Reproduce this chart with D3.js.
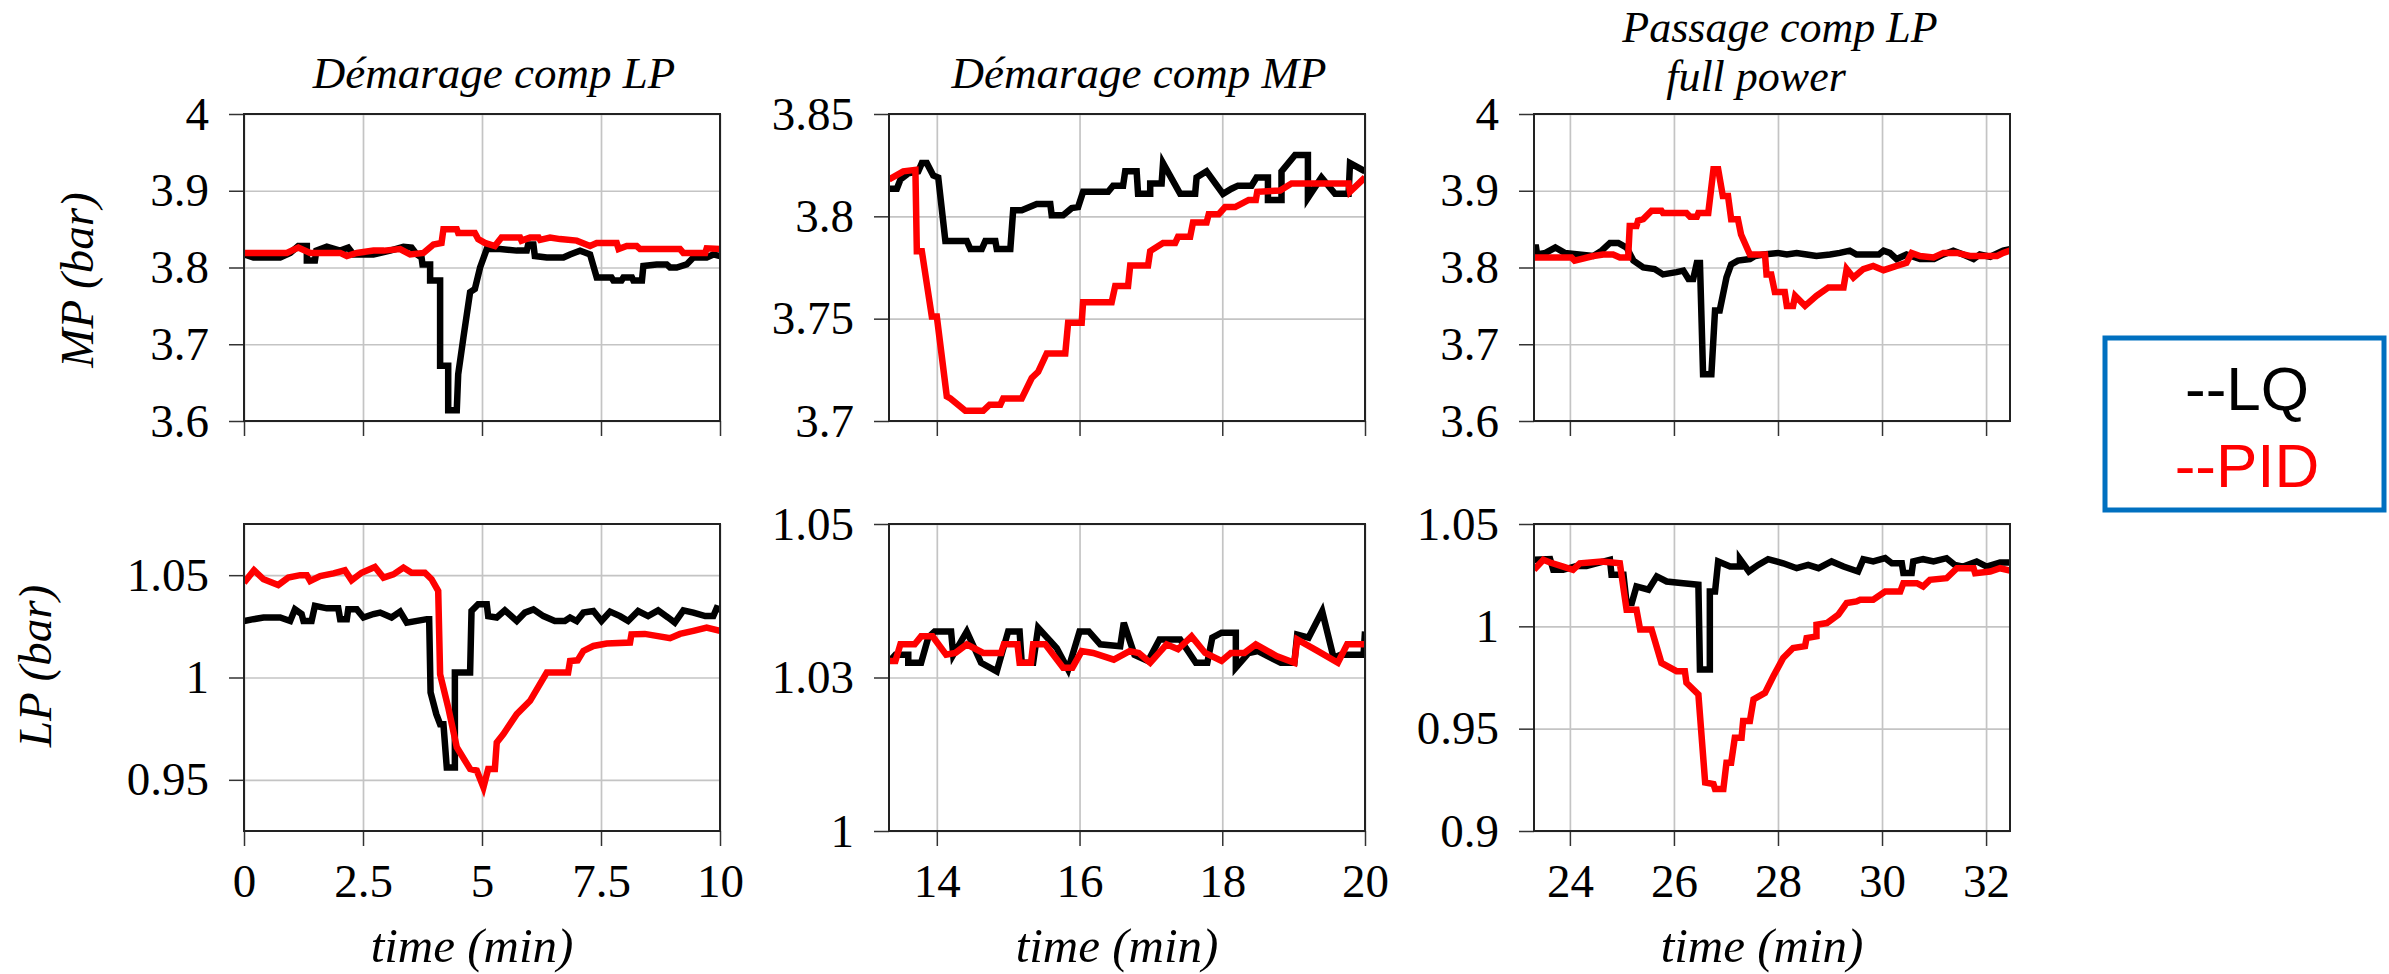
<!DOCTYPE html>
<html lang="en">
<head>
  <meta charset="utf-8">
  <title>LQ vs PID</title>
  <script src="https://cdn.jsdelivr.net/npm/d3@7"></script>
  <style>
    body { margin: 0; background: #fff; }
    .tick text { font-family: "Liberation Serif", "DejaVu Serif", serif; font-size: 47px; fill: #000; }
    .grid line { stroke: #c4c4c4; stroke-width: 1.7; }
    .axis line { stroke: #333; stroke-width: 1.5; }
    .title, .label { font-family: "Liberation Serif", "DejaVu Serif", serif; font-style: italic; fill: #000; }
  </style>
</head>
<body>
  <script>
    // ---- data: [time (min), pressure (bar)] ----
    // MP pressure, start of LP compressor
    const mpLpLQ = [[0,3.817],[0.2,3.813],[0.76,3.813],[0.97,3.819],[1.14,3.828],[1.32,3.828],[1.32,3.809],[1.49,3.809],[1.52,3.822],[1.74,3.827],[2.02,3.822],[2.19,3.826],[2.3,3.817],[2.72,3.817],[3.07,3.822],[3.35,3.827],[3.52,3.826],[3.63,3.817],[3.73,3.813],[3.75,3.804],[3.91,3.804],[3.91,3.783],[4.12,3.783],[4.12,3.672],[4.29,3.672],[4.29,3.614],[4.47,3.614],[4.5,3.661],[4.61,3.709],[4.75,3.768],[4.85,3.772],[4.96,3.8],[5.1,3.824],[5.38,3.824],[5.73,3.822],[5.94,3.822],[5.97,3.83],[6.08,3.83],[6.11,3.815],[6.36,3.813],[6.71,3.813],[6.85,3.817],[7.06,3.822],[7.27,3.817],[7.41,3.787],[7.72,3.787],[7.76,3.783],[7.93,3.783],[7.97,3.787],[8.15,3.787],[8.18,3.783],[8.36,3.783],[8.39,3.802],[8.67,3.804],[8.88,3.804],[8.95,3.8],[9.09,3.8],[9.3,3.804],[9.44,3.813],[9.72,3.813],[9.86,3.817],[10,3.815]];
    const mpLpPID = [[0,3.819],[0.9,3.819],[1.14,3.826],[1.39,3.819],[2.02,3.819],[2.16,3.815],[2.37,3.819],[2.72,3.822],[2.94,3.822],[3.28,3.824],[3.49,3.817],[3.77,3.819],[3.98,3.83],[4.15,3.832],[4.19,3.85],[4.47,3.85],[4.5,3.845],[4.85,3.845],[4.92,3.837],[5.06,3.832],[5.27,3.828],[5.41,3.839],[5.8,3.839],[5.83,3.835],[6.01,3.839],[6.19,3.839],[6.22,3.836],[6.43,3.839],[6.64,3.837],[6.99,3.835],[7.27,3.828],[7.41,3.832],[7.83,3.832],[7.87,3.824],[8.04,3.828],[8.25,3.828],[8.32,3.824],[9.16,3.824],[9.23,3.819],[9.69,3.819],[9.72,3.825],[10,3.824]];
    // MP pressure, start of MP compressor
    const mpMpLQ = [[13.33,3.8135],[13.44,3.8135],[13.49,3.818],[13.6,3.821],[13.74,3.822],[13.79,3.826],[13.86,3.826],[13.95,3.82],[14.02,3.819],[14.12,3.788],[14.42,3.788],[14.47,3.784],[14.63,3.784],[14.68,3.788],[14.82,3.788],[14.84,3.784],[15.03,3.784],[15.07,3.803],[15.19,3.803],[15.4,3.806],[15.59,3.806],[15.61,3.8005],[15.77,3.8005],[15.89,3.804],[15.98,3.8045],[16.05,3.812],[16.4,3.812],[16.47,3.815],[16.61,3.815],[16.64,3.822],[16.8,3.822],[16.82,3.811],[16.99,3.811],[16.99,3.816],[17.15,3.816],[17.17,3.826],[17.41,3.811],[17.62,3.811],[17.64,3.819],[17.78,3.822],[18.01,3.811],[18.13,3.8135],[18.22,3.815],[18.41,3.815],[18.48,3.819],[18.64,3.819],[18.64,3.808],[18.83,3.808],[18.83,3.822],[19.02,3.83],[19.2,3.83],[19.2,3.809],[19.39,3.819],[19.58,3.811],[19.77,3.811],[19.79,3.826],[20,3.822]];
    const mpMpPID = [[13.33,3.818],[13.53,3.822],[13.7,3.8227],[13.72,3.783],[13.79,3.783],[13.93,3.751],[14.0,3.751],[14.14,3.712],[14.19,3.711],[14.4,3.705],[14.65,3.705],[14.74,3.708],[14.89,3.708],[14.93,3.711],[15.19,3.711],[15.33,3.721],[15.42,3.724],[15.54,3.733],[15.8,3.733],[15.84,3.748],[16.03,3.748],[16.05,3.758],[16.45,3.758],[16.5,3.766],[16.68,3.766],[16.71,3.776],[16.96,3.776],[16.99,3.783],[17.17,3.787],[17.34,3.787],[17.38,3.79],[17.55,3.79],[17.59,3.797],[17.78,3.797],[17.81,3.801],[17.95,3.801],[18.04,3.8045],[18.18,3.8045],[18.37,3.808],[18.47,3.808],[18.49,3.812],[18.81,3.8126],[18.97,3.816],[19.77,3.816],[19.79,3.812],[20,3.819]];
    // MP pressure, LP compressor to full power
    const mpFullLQ = [[23.31,3.826],[23.35,3.826],[23.37,3.817],[23.53,3.819],[23.72,3.826],[23.9,3.819],[24.45,3.815],[24.61,3.822],[24.77,3.832],[24.93,3.832],[25.09,3.826],[25.22,3.809],[25.41,3.8],[25.63,3.798],[25.79,3.791],[26.05,3.794],[26.18,3.796],[26.28,3.785],[26.37,3.785],[26.44,3.806],[26.5,3.806],[26.56,3.661],[26.72,3.661],[26.79,3.744],[26.88,3.744],[27.01,3.787],[27.1,3.804],[27.23,3.809],[27.46,3.811],[27.56,3.815],[27.72,3.817],[28.0,3.819],[28.17,3.817],[28.36,3.819],[28.55,3.817],[28.74,3.815],[29.0,3.817],[29.19,3.819],[29.38,3.822],[29.51,3.817],[29.94,3.817],[30.03,3.822],[30.15,3.819],[30.28,3.811],[30.47,3.817],[30.73,3.811],[31.0,3.811],[31.18,3.817],[31.37,3.822],[31.56,3.817],[31.76,3.811],[31.88,3.817],[32.08,3.814],[32.33,3.822],[32.46,3.824]];
    const mpFullPID = [[23.31,3.813],[24.03,3.813],[24.09,3.809],[24.45,3.815],[24.64,3.817],[24.83,3.817],[24.96,3.813],[25.12,3.813],[25.15,3.854],[25.28,3.854],[25.31,3.861],[25.41,3.863],[25.57,3.874],[25.76,3.874],[25.79,3.871],[26.24,3.871],[26.31,3.866],[26.44,3.866],[26.47,3.871],[26.66,3.871],[26.76,3.928],[26.85,3.928],[26.94,3.893],[27.04,3.893],[27.1,3.863],[27.23,3.863],[27.29,3.843],[27.46,3.817],[27.75,3.817],[27.78,3.791],[27.87,3.791],[27.94,3.768],[28.13,3.768],[28.17,3.75],[28.29,3.75],[28.33,3.763],[28.52,3.75],[28.74,3.763],[28.97,3.774],[29.26,3.774],[29.32,3.798],[29.45,3.787],[29.64,3.798],[29.83,3.802],[30.03,3.7965],[30.28,3.802],[30.47,3.806],[30.57,3.819],[30.73,3.815],[30.99,3.813],[31.18,3.819],[31.44,3.819],[31.69,3.815],[32.21,3.815],[32.33,3.819],[32.46,3.822]];
    // LP pressure, start of LP compressor
    const lpLpLQ = [[0,1.0276],[0.2,1.0285],[0.41,1.0293],[0.76,1.0293],[0.97,1.0276],[1.07,1.0333],[1.21,1.031],[1.25,1.0276],[1.42,1.0276],[1.49,1.035],[1.74,1.0338],[1.98,1.0338],[2.02,1.0285],[2.16,1.0285],[2.19,1.0333],[2.37,1.0333],[2.51,1.0293],[2.72,1.031],[2.86,1.0317],[3.1,1.0293],[3.28,1.0322],[3.42,1.0268],[3.84,1.0285],[3.89,1.0285],[3.92,0.9927],[4.04,0.9821],[4.12,0.9772],[4.19,0.9772],[4.26,0.956],[4.43,0.956],[4.43,1.0024],[4.75,1.0024],[4.78,1.0325],[4.92,1.0358],[5.1,1.0358],[5.13,1.03],[5.31,1.0293],[5.48,1.0328],[5.73,1.0276],[5.9,1.0317],[6.08,1.0333],[6.29,1.03],[6.53,1.0276],[6.74,1.0276],[6.85,1.0293],[6.99,1.0276],[7.13,1.0317],[7.34,1.0325],[7.51,1.0276],[7.69,1.0322],[7.9,1.03],[8.07,1.0276],[8.28,1.0325],[8.49,1.03],[8.7,1.0328],[8.91,1.0293],[9.05,1.0268],[9.23,1.0328],[9.44,1.0317],[9.69,1.03],[9.86,1.03],[9.93,1.0338],[10,1.0333]];
    const lpLpPID = [[0,1.0463],[0.21,1.0524],[0.41,1.048],[0.72,1.0452],[0.93,1.0488],[1.18,1.05],[1.32,1.05],[1.39,1.0472],[1.6,1.0496],[1.88,1.0509],[2.12,1.0524],[2.26,1.0475],[2.47,1.0512],[2.75,1.054],[2.93,1.0488],[3.14,1.0504],[3.35,1.0537],[3.52,1.0512],[3.8,1.0512],[3.94,1.048],[4.08,1.0423],[4.12,1.0016],[4.29,0.9854],[4.47,0.9659],[4.75,0.9553],[4.89,0.9545],[5.03,0.9463],[5.13,0.9553],[5.27,0.9553],[5.31,0.9683],[5.45,0.9724],[5.73,0.9821],[6.01,0.9886],[6.36,1.0024],[6.81,1.0024],[6.85,1.0081],[7.01,1.0084],[7.13,1.013],[7.34,1.0154],[7.62,1.0166],[8.11,1.0171],[8.14,1.0211],[8.42,1.0213],[8.95,1.0192],[9.16,1.0213],[9.44,1.0228],[9.72,1.0244],[10,1.0228]];
    // LP pressure, start of MP compressor
    const lpMpLQ = [[13.34,1.0277],[13.42,1.0287],[13.6,1.0287],[13.6,1.0274],[13.78,1.0274],[13.88,1.0315],[13.97,1.0325],[14.2,1.0325],[14.23,1.0287],[14.42,1.0325],[14.62,1.0274],[14.84,1.026],[15.0,1.0325],[15.16,1.0325],[15.19,1.0274],[15.35,1.0274],[15.42,1.0331],[15.68,1.0298],[15.84,1.0263],[16.0,1.0325],[16.13,1.0325],[16.29,1.0304],[16.57,1.0301],[16.62,1.0339],[16.77,1.0287],[16.96,1.0277],[17.12,1.0312],[17.41,1.0312],[17.63,1.0274],[17.79,1.0274],[17.86,1.0315],[17.99,1.0323],[18.19,1.0323],[18.19,1.0266],[18.37,1.029],[18.5,1.0293],[18.82,1.0274],[19.01,1.0274],[19.05,1.032],[19.21,1.0315],[19.4,1.0358],[19.56,1.0282],[19.66,1.0287],[19.98,1.0287],[20,1.0325]];
    const lpMpPID = [[13.34,1.0277],[13.42,1.0277],[13.49,1.0304],[13.69,1.0304],[13.78,1.0317],[13.94,1.0317],[14.13,1.0287],[14.26,1.029],[14.42,1.0304],[14.65,1.029],[14.9,1.029],[14.94,1.0304],[15.13,1.0304],[15.16,1.0274],[15.32,1.0274],[15.35,1.0304],[15.52,1.0304],[15.77,1.0266],[15.9,1.0266],[16.03,1.0293],[16.19,1.029],[16.48,1.0279],[16.7,1.0293],[16.83,1.029],[16.99,1.0274],[17.22,1.0304],[17.38,1.0296],[17.57,1.0317],[17.76,1.029],[17.99,1.0277],[18.12,1.029],[18.31,1.029],[18.47,1.0304],[18.76,1.0285],[19.01,1.0274],[19.05,1.0312],[19.34,1.0293],[19.62,1.0274],[19.75,1.0304],[20,1.0304]];
    // LP pressure, LP compressor to full power
    const lpFullLQ = [[23.31,1.0325],[23.62,1.0328],[23.68,1.0276],[23.87,1.0276],[24.13,1.0295],[24.32,1.0295],[24.51,1.0308],[24.77,1.0325],[24.8,1.0252],[25.03,1.0252],[25.09,1.0114],[25.19,1.0114],[25.28,1.0195],[25.51,1.0179],[25.67,1.0244],[25.86,1.0219],[26.18,1.0211],[26.47,1.0203],[26.5,0.9789],[26.69,0.9789],[26.69,1.017],[26.79,1.017],[26.85,1.0317],[27.08,1.0292],[27.27,1.0292],[27.27,1.0328],[27.44,1.0268],[27.62,1.03],[27.81,1.0328],[28.1,1.0308],[28.36,1.0284],[28.58,1.03],[28.78,1.0284],[29.03,1.0317],[29.26,1.0292],[29.54,1.0268],[29.64,1.0328],[29.83,1.0317],[30.06,1.0333],[30.19,1.0308],[30.38,1.0308],[30.41,1.026],[30.57,1.026],[30.6,1.0317],[30.79,1.0328],[30.99,1.0317],[31.24,1.0333],[31.4,1.03],[31.56,1.0292],[31.82,1.0317],[32.01,1.0292],[32.27,1.0312],[32.46,1.0312]];
    const lpFullPID = [[23.31,1.0276],[23.49,1.0325],[23.62,1.0312],[23.87,1.0292],[24.06,1.0276],[24.19,1.0308],[24.61,1.0317],[24.96,1.0308],[25.09,1.0081],[25.28,1.0081],[25.35,0.9984],[25.57,0.9984],[25.76,0.9821],[26.05,0.9781],[26.21,0.9781],[26.24,0.9724],[26.47,0.9667],[26.6,0.9237],[26.76,0.9229],[26.79,0.9205],[26.95,0.9205],[27.01,0.9334],[27.1,0.9334],[27.17,0.9456],[27.3,0.9456],[27.33,0.9537],[27.46,0.9537],[27.53,0.9643],[27.75,0.9675],[27.91,0.9756],[28.1,0.9846],[28.29,0.9894],[28.52,0.9903],[28.55,0.9943],[28.74,0.9951],[28.74,1.0008],[28.94,1.0016],[29.16,1.0057],[29.32,1.0114],[29.51,1.0122],[29.58,1.013],[29.83,1.013],[30.06,1.017],[30.35,1.017],[30.41,1.0211],[30.67,1.0211],[30.79,1.0195],[30.92,1.0227],[31.24,1.0235],[31.44,1.0284],[31.76,1.0284],[31.79,1.026],[32.08,1.0268],[32.27,1.0284],[32.46,1.0273]];

    // ---- axes: domains, ticks and tick labels ----
    const xDomLp = [0, 10], xDomMp = [13.33, 20], xDomFull = [23.31, 32.46];
    const xTicksLp = [0, 2.5, 5, 7.5, 10], xLabelsLp = ["0", "2.5", "5", "7.5", "10"];
    const xTicksMp = [14, 16, 18, 20], xLabelsMp = ["14", "16", "18", "20"];
    const xTicksFull = [24, 26, 28, 30, 32], xLabelsFull = ["24", "26", "28", "30", "32"];
    const yTicksMp4 = [3.6, 3.7, 3.8, 3.9, 4], yLabelsMp4 = ["3.6", "3.7", "3.8", "3.9", "4"];
    const yTicksMp385 = [3.7, 3.75, 3.8, 3.85], yLabelsMp385 = ["3.7", "3.75", "3.8", "3.85"];
    const yTicksLpA = [0.95, 1, 1.05], yLabelsLpA = ["0.95", "1", "1.05"];
    const yTicksLpB = [1, 1.025, 1.05], yLabelsLpB = ["1", "1.03", "1.05"];
    const yTicksLpC = [0.9, 0.95, 1, 1.05], yLabelsLpC = ["0.9", "0.95", "1", "1.05"];
    const titles = [["Démarage comp LP"], ["Démarage comp MP"], ["Passage comp LP", "full power"]];
    const legendNames = ["--LQ", "--PID"];
    const colors = { LQ: "#000000", PID: "#ff0000" };

    const panels = [
      { row: 0, col: 0, lq: mpLpLQ, pid: mpLpPID, xDom: xDomLp, yDom: [3.6, 4], xt: xTicksLp, xl: xLabelsLp, yt: yTicksMp4, yl: yLabelsMp4 },
      { row: 0, col: 1, lq: mpMpLQ, pid: mpMpPID, xDom: xDomMp, yDom: [3.7, 3.85], xt: xTicksMp, xl: xLabelsMp, yt: yTicksMp385, yl: yLabelsMp385 },
      { row: 0, col: 2, lq: mpFullLQ, pid: mpFullPID, xDom: xDomFull, yDom: [3.6, 4], xt: xTicksFull, xl: xLabelsFull, yt: yTicksMp4, yl: yLabelsMp4 },
      { row: 1, col: 0, lq: lpLpLQ, pid: lpLpPID, xDom: xDomLp, yDom: [0.925, 1.075], xt: xTicksLp, xl: xLabelsLp, yt: yTicksLpA, yl: yLabelsLpA },
      { row: 1, col: 1, lq: lpMpLQ, pid: lpMpPID, xDom: xDomMp, yDom: [1, 1.05], xt: xTicksMp, xl: xLabelsMp, yt: yTicksLpB, yl: yLabelsLpB },
      { row: 1, col: 2, lq: lpFullLQ, pid: lpFullPID, xDom: xDomFull, yDom: [0.9, 1.05], xt: xTicksFull, xl: xLabelsFull, yt: yTicksLpC, yl: yLabelsLpC }
    ];

    const width = 2389, height = 974;
    const colLeft = [244, 889, 1534], rowTop = [114, 524];
    const plotW = 476, plotH = 307;

    const svg = d3.select("body").append("svg")
      .attr("width", width)
      .attr("height", height);

    panels.forEach((p, i) => {
      let left = colLeft[p.col], top = rowTop[p.row];
      let g = svg.append("g").attr("transform", `translate(${left}, ${top})`);
      let xScale = d3.scaleLinear().domain(p.xDom).range([0, plotW]);
      let yScale = d3.scaleLinear().domain(p.yDom).range([plotH, 0]);

      // grid
      g.append("g").attr("class", "grid")
        .call(d3.axisBottom(xScale).tickValues(p.xt).tickSize(plotH).tickFormat(""))
        .call(s => s.select(".domain").remove());
      g.append("g").attr("class", "grid")
        .call(d3.axisLeft(yScale).tickValues(p.yt).tickSize(-plotW).tickFormat(""))
        .call(s => s.select(".domain").remove());

      // axes (labels on the x axis only for the bottom row)
      g.append("g").attr("class", "axis")
        .attr("transform", `translate(0, ${plotH})`)
        .call(d3.axisBottom(xScale).tickValues(p.xt).tickSize(15).tickPadding(18)
          .tickFormat((d, k) => p.row === 1 ? p.xl[k] : ""))
        .call(s => s.select(".domain").remove());
      g.append("g").attr("class", "axis")
        .call(d3.axisLeft(yScale).tickValues(p.yt).tickSize(15).tickPadding(20)
          .tickFormat((d, k) => p.yl[k]))
        .call(s => s.select(".domain").remove());

      // lines, LQ below PID
      let clipId = "clip" + i;
      g.append("clipPath").attr("id", clipId)
        .append("rect").attr("width", plotW).attr("height", plotH);
      let line = d3.line().x(d => xScale(d[0])).y(d => yScale(d[1]));
      let lines = g.append("g").attr("clip-path", `url(#${clipId})`);
      lines.append("path").datum(p.lq)
        .attr("d", line).attr("fill", "none")
        .attr("stroke", colors.LQ).attr("stroke-width", 6.5);
      lines.append("path").datum(p.pid)
        .attr("d", line).attr("fill", "none")
        .attr("stroke", colors.PID).attr("stroke-width", 6.5);

      // frame
      g.append("rect").attr("width", plotW).attr("height", plotH)
        .attr("fill", "none").attr("stroke", "#222").attr("stroke-width", 2);

      // titles and x label
      if (p.row === 0) {
        let t = titles[p.col];
        if (t.length === 1) {
          g.append("text").attr("class", "title")
            .attr("x", plotW / 2 + 12).attr("y", 88 - top)
            .attr("text-anchor", "middle").attr("font-size", 45).text(t[0]);
        } else {
          g.append("text").attr("class", "title")
            .attr("x", plotW / 2 + 8).attr("y", 42 - top)
            .attr("text-anchor", "middle").attr("font-size", 44).text(t[0]);
          g.append("text").attr("class", "title")
            .attr("x", plotW / 2 - 16).attr("y", 91 - top)
            .attr("text-anchor", "middle").attr("font-size", 44).text(t[1]);
        }
      } else {
        g.append("text").attr("class", "label")
          .attr("x", plotW / 2 - 10).attr("y", 962 - top)
          .attr("text-anchor", "middle").attr("font-size", 49).text("time (min)");
      }
    });

    // y labels
    svg.append("text").attr("class", "label")
      .attr("transform", `translate(${93}, ${280}) rotate(-90)`)
      .attr("text-anchor", "middle").attr("font-size", 47).text("MP (bar)");
    svg.append("text").attr("class", "label")
      .attr("transform", `translate(${51}, ${666}) rotate(-90)`)
      .attr("text-anchor", "middle").attr("font-size", 47).text("LP (bar)");

    // legend box
    let legend = svg.append("g");
    legend.append("rect")
      .attr("x", 2105).attr("y", 338).attr("width", 279).attr("height", 172)
      .attr("fill", "#fff").attr("stroke", "#0070c0").attr("stroke-width", 5);
    legend.selectAll("text").data(legendNames).join("text")
      .attr("x", 2247)
      .attr("y", (d, k) => 410 + k * 77)
      .attr("text-anchor", "middle")
      .attr("font-family", "Liberation Sans, Arial, sans-serif")
      .attr("font-size", 62)
      .attr("fill", (d, k) => k === 0 ? colors.LQ : colors.PID)
      .text(d => d);
  </script>
</body>
</html>
